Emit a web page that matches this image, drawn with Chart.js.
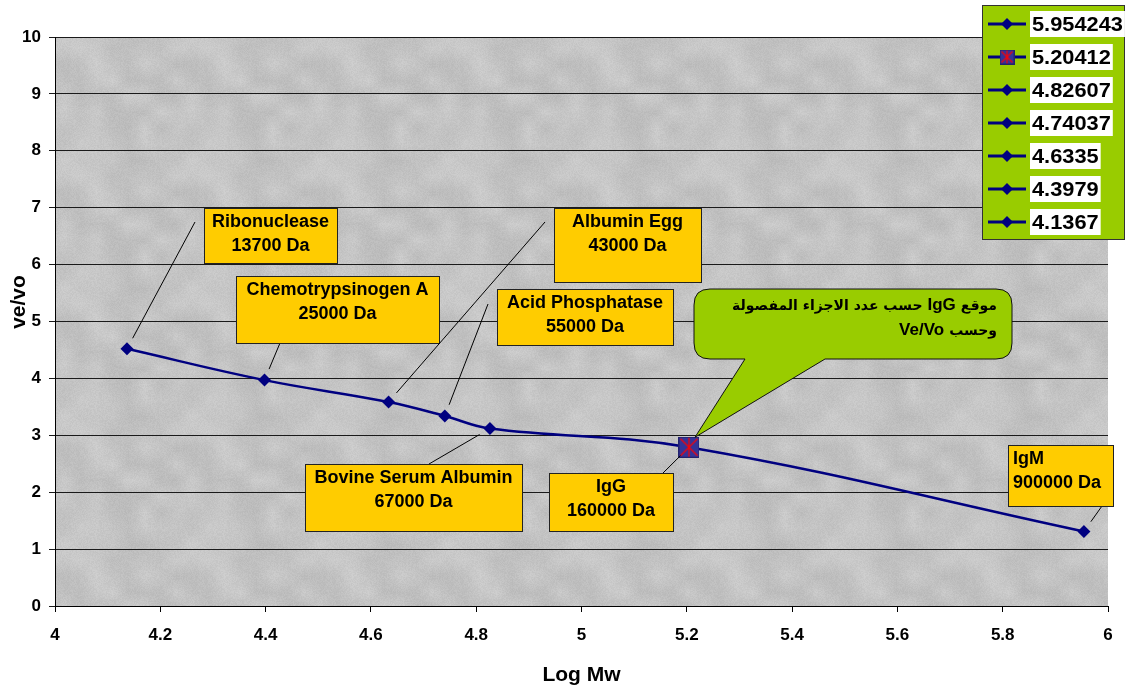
<!DOCTYPE html>
<html>
<head>
<meta charset="utf-8">
<title>ve/vo vs Log Mw</title>
<script src="https://cdn.jsdelivr.net/npm/chart.js"></script>
<style>
  html, body { margin: 0; padding: 0; background: #fff; }
  #wrap { position: relative; width: 1127px; height: 690px; }
</style>
</head>
<body>
<div id="wrap"><canvas id="chart"></canvas></div>
<script>
// data
const logMw = [4.1367, 4.3979, 4.6335, 4.74037, 4.82607, 5.20412, 5.954243];
const veVo = [4.52, 3.97, 3.585, 3.34, 3.12, 2.79, 1.31];
const proteinNames = ['Ribonuclease', 'Chemotrypsinogen A', 'Albumin Egg', 'Acid Phosphatase', 'Bovine Serum Albumin', 'IgG', 'IgM'];
const proteinMasses = ['13700 Da', '25000 Da', '43000 Da', '55000 Da', '67000 Da', '160000 Da', '900000 Da'];
const legendLabels = ['5.954243', '5.20412', '4.82607', '4.74037', '4.6335', '4.3979', '4.1367'];
const xTicks = [4, 4.2, 4.4, 4.6, 4.8, 5, 5.2, 5.4, 5.6, 5.8, 6];
const yTicks = [0, 1, 2, 3, 4, 5, 6, 7, 8, 9, 10];
// callout text, one entry per line, runs listed right to left as they are read
const calloutLines = [
  ['موقع', 'IgG', 'حسب عدد الاجزاء المفصولة'],
  ['وحسب', 'Ve/Vo'],
];
const igGIndex = 5;

// where the yellow label boxes sit (pixels) and where their leader lines start
const labelBoxes = [
  { x: 204, y: 208, w: 133, h: 55, ax: 195, ay: 222 },
  { x: 236, y: 276, w: 203, h: 67, ax: 280, ay: 343 },
  { x: 554, y: 208, w: 147, h: 74, ax: 545, ay: 222 },
  { x: 497, y: 289, w: 176, h: 56, ax: 488, ay: 304 },
  { x: 305, y: 464, w: 217, h: 67, ax: 429, ay: 464 },
  { x: 549, y: 473, w: 124, h: 58, ax: 663, ay: 473 },
  { x: 1008, y: 445, w: 105, h: 61, ax: 1102, ay: 506, left: true },
];

const FONT = '"Liberation Sans", Arial, sans-serif';
const NAVY = '#000080';

function starSquare(size) {
  const c = document.createElement('canvas');
  c.width = c.height = size;
  const g = c.getContext('2d');
  g.fillStyle = '#333399';
  g.fillRect(0, 0, size, size);
  g.strokeStyle = '#22226e';
  g.strokeRect(0.5, 0.5, size - 1, size - 1);
  g.strokeStyle = '#ff0000';
  g.lineWidth = 1.2;
  g.beginPath();
  g.moveTo(2, 2); g.lineTo(size - 2, size - 2);
  g.moveTo(size - 2, 2); g.lineTo(2, size - 2);
  g.moveTo(size / 2, 1); g.lineTo(size / 2, size - 1);
  g.stroke();
  return c;
}

// soft grey granite-like tile for the plot area
function granite() {
  const n = 128, cell = 16, k = n / cell;
  const c = document.createElement('canvas');
  c.width = c.height = n;
  const g = c.getContext('2d');
  const img = g.createImageData(n, n);
  const h = (x, y) => {
    const s = Math.sin(x * 12.9898 + y * 78.233) * 43758.5453;
    return s - Math.floor(s);
  };
  const smooth = (x, y) => {
    const gx = Math.floor(x / cell), gy = Math.floor(y / cell);
    const fx = x / cell - gx, fy = y / cell - gy;
    const a = h(gx % k, gy % k), b = h((gx + 1) % k, gy % k);
    const c2 = h(gx % k, (gy + 1) % k), d = h((gx + 1) % k, (gy + 1) % k);
    const top = a + (b - a) * fx, bot = c2 + (d - c2) * fx;
    return top + (bot - top) * fy;
  };
  for (let y = 0; y < n; y++) {
    for (let x = 0; x < n; x++) {
      const v = 196 + (smooth(x, y) - 0.5) * 18 + (h(x + 0.3, y + 0.7) - 0.5) * 10;
      const i = (y * n + x) * 4;
      img.data[i] = img.data[i + 1] = img.data[i + 2] = v;
      img.data[i + 3] = 255;
    }
  }
  g.putImageData(img, 0, 0);
  return c;
}

const igGMarker = starSquare(21);
const igGLegendMarker = starSquare(15);
const graniteTile = granite();

function drawDiamond(ctx, x, y, r) {
  ctx.beginPath();
  ctx.moveTo(x - r, y);
  ctx.lineTo(x, y - r);
  ctx.lineTo(x + r, y);
  ctx.lineTo(x, y + r);
  ctx.closePath();
  ctx.fillStyle = NAVY;
  ctx.fill();
}

const isArabic = s => /[\u0600-\u06FF]/.test(s);

const decor = {
  id: 'decor',
  beforeDraw(chart) {
    const { ctx, chartArea: a } = chart;
    ctx.save();
    ctx.fillStyle = ctx.createPattern(graniteTile, 'repeat');
    ctx.fillRect(a.left, a.top, a.right - a.left, a.bottom - a.top);
    ctx.restore();
  },
  afterDraw(chart) {
    const ctx = chart.ctx;
    const pts = chart.getDatasetMeta(0).data;
    ctx.save();

    // leader lines + yellow boxes
    labelBoxes.forEach((b, i) => {
      const p = pts[i];
      const dx = b.ax - p.x, dy = b.ay - p.y;
      const len = Math.hypot(dx, dy);
      const ex = p.x + dx / len * 12, ey = p.y + dy / len * 12;
      ctx.strokeStyle = '#000';
      ctx.lineWidth = 1;
      ctx.beginPath();
      ctx.moveTo(b.ax, b.ay);
      ctx.lineTo(ex, ey);
      ctx.stroke();

      ctx.fillStyle = '#ffcc00';
      ctx.fillRect(b.x, b.y, b.w, b.h);
      ctx.strokeStyle = '#222';
      ctx.strokeRect(b.x + 0.5, b.y + 0.5, b.w, b.h);

      ctx.fillStyle = '#000';
      ctx.font = 'bold 18px ' + FONT;
      ctx.textBaseline = 'middle';
      ctx.textAlign = b.left ? 'left' : 'center';
      const tx = b.left ? b.x + 5 : b.x + b.w / 2;
      ctx.fillText(proteinNames[i], tx, b.y + 14);
      ctx.fillText(proteinMasses[i], tx, b.y + 38);
    });

    // green callout pointing at IgG
    const tip = pts[igGIndex];
    const cx0 = 694, cy0 = 289, cx1 = 1012, cy1 = 359, r = 16;
    ctx.beginPath();
    ctx.moveTo(cx0 + r, cy0);
    ctx.lineTo(cx1 - r, cy0);
    ctx.quadraticCurveTo(cx1, cy0, cx1, cy0 + r);
    ctx.lineTo(cx1, cy1 - r);
    ctx.quadraticCurveTo(cx1, cy1, cx1 - r, cy1);
    ctx.lineTo(825, cy1);
    ctx.lineTo(tip.x + 6, tip.y - 10);
    ctx.lineTo(745, cy1);
    ctx.lineTo(cx0 + r, cy1);
    ctx.quadraticCurveTo(cx0, cy1, cx0, cy1 - r);
    ctx.lineTo(cx0, cy0 + r);
    ctx.quadraticCurveTo(cx0, cy0, cx0 + r, cy0);
    ctx.closePath();
    ctx.fillStyle = '#99cc00';
    ctx.fill();
    ctx.strokeStyle = '#111';
    ctx.lineWidth = 1;
    ctx.stroke();

    ctx.fillStyle = '#000';
    ctx.textBaseline = 'middle';
    calloutLines.forEach((runs, li) => {
      let x = 997;
      const y = 305 + li * 25;
      runs.forEach(run => {
        const ar = isArabic(run);
        ctx.font = ar ? 'bold 14px "DejaVu Sans", ' + FONT : 'bold 17px ' + FONT;
        ctx.direction = ar ? 'rtl' : 'ltr';
        ctx.textAlign = 'right';
        ctx.fillText(run, x, y + (ar ? 1 : 0));
        x -= ctx.measureText(run).width + 5;
      });
    });
    ctx.direction = 'ltr';

    // legend
    ctx.fillStyle = '#99cc00';
    ctx.fillRect(982, 5, 142, 234);
    ctx.strokeStyle = '#333';
    ctx.strokeRect(982.5, 5.5, 142, 234);
    ctx.font = 'bold 20px ' + FONT;
    ctx.textAlign = 'left';
    legendLabels.forEach((lab, i) => {
      const y = 24 + i * 33;
      ctx.strokeStyle = NAVY;
      ctx.lineWidth = 3;
      ctx.beginPath();
      ctx.moveTo(988, y);
      ctx.lineTo(1026, y);
      ctx.stroke();
      if (i === 1) ctx.drawImage(igGLegendMarker, 1007 - 7.5, y - 7.5);
      else drawDiamond(ctx, 1007, y, 6);
      const w = ctx.measureText(lab).width * 1.09;
      ctx.fillStyle = '#fff';
      ctx.fillRect(1030, y - 13, w + 4, 26);
      ctx.fillStyle = '#000';
      ctx.save();
      ctx.translate(1032, y + 1);
      ctx.scale(1.09, 1);
      ctx.fillText(lab, 0, 0);
      ctx.restore();
    });

    // y axis title
    ctx.save();
    ctx.translate(19, 302);
    ctx.rotate(-Math.PI / 2);
    ctx.font = 'bold 21px ' + FONT;
    ctx.textAlign = 'center';
    ctx.fillStyle = '#000';
    ctx.fillText('ve/vo', 0, 0);
    ctx.restore();

    ctx.restore();
  },
};

new Chart(document.getElementById('chart'), {
  type: 'line',
  data: {
    datasets: [{
      label: 've/vo',
      data: logMw.map((x, i) => ({ x, y: veVo[i] })),
      borderColor: NAVY,
      borderWidth: 2.5,
      tension: 0.4,
      fill: false,
      pointStyle: logMw.map((_, i) => (i === igGIndex ? igGMarker : 'rectRot')),
      pointRadius: 6.5,
      pointBackgroundColor: NAVY,
      pointBorderColor: NAVY,
      pointBorderWidth: 0,
    }],
  },
  options: {
    responsive: true,
    maintainAspectRatio: false,
    animation: false,
    layout: { padding: { top: 37, right: 19, left: 0, bottom: 0 } },
    plugins: { legend: { display: false }, tooltip: { enabled: false } },
    scales: {
      x: {
        type: 'linear',
        min: 4,
        max: 6,
        afterBuildTicks: axis => { axis.ticks = xTicks.map(v => ({ value: v })); },
        afterFit: s => { s.height = 84; },
        ticks: { color: '#000', padding: 13, font: { family: FONT, size: 17, weight: 'bold' }, callback: v => String(v) },
        grid: { drawOnChartArea: false, drawTicks: true, tickLength: 6, color: '#000' },
        border: { display: true, color: '#000', width: 1 },
        title: { display: true, text: 'Log Mw', color: '#000', padding: { top: 0, bottom: 2 }, font: { family: FONT, size: 21, weight: 'bold' } },
      },
      y: {
        min: 0,
        max: 10,
        afterBuildTicks: axis => { axis.ticks = yTicks.map(v => ({ value: v })); },
        afterFit: s => { s.width = 55; },
        ticks: { color: '#000', padding: 8, font: { family: FONT, size: 17, weight: 'bold' }, callback: v => String(v) },
        grid: { drawTicks: true, tickLength: 6, color: '#1a1a1a', lineWidth: 1 },
        border: { display: true, color: '#000', width: 1 },
      },
    },
  },
  plugins: [decor],
});
</script>
</body>
</html>
